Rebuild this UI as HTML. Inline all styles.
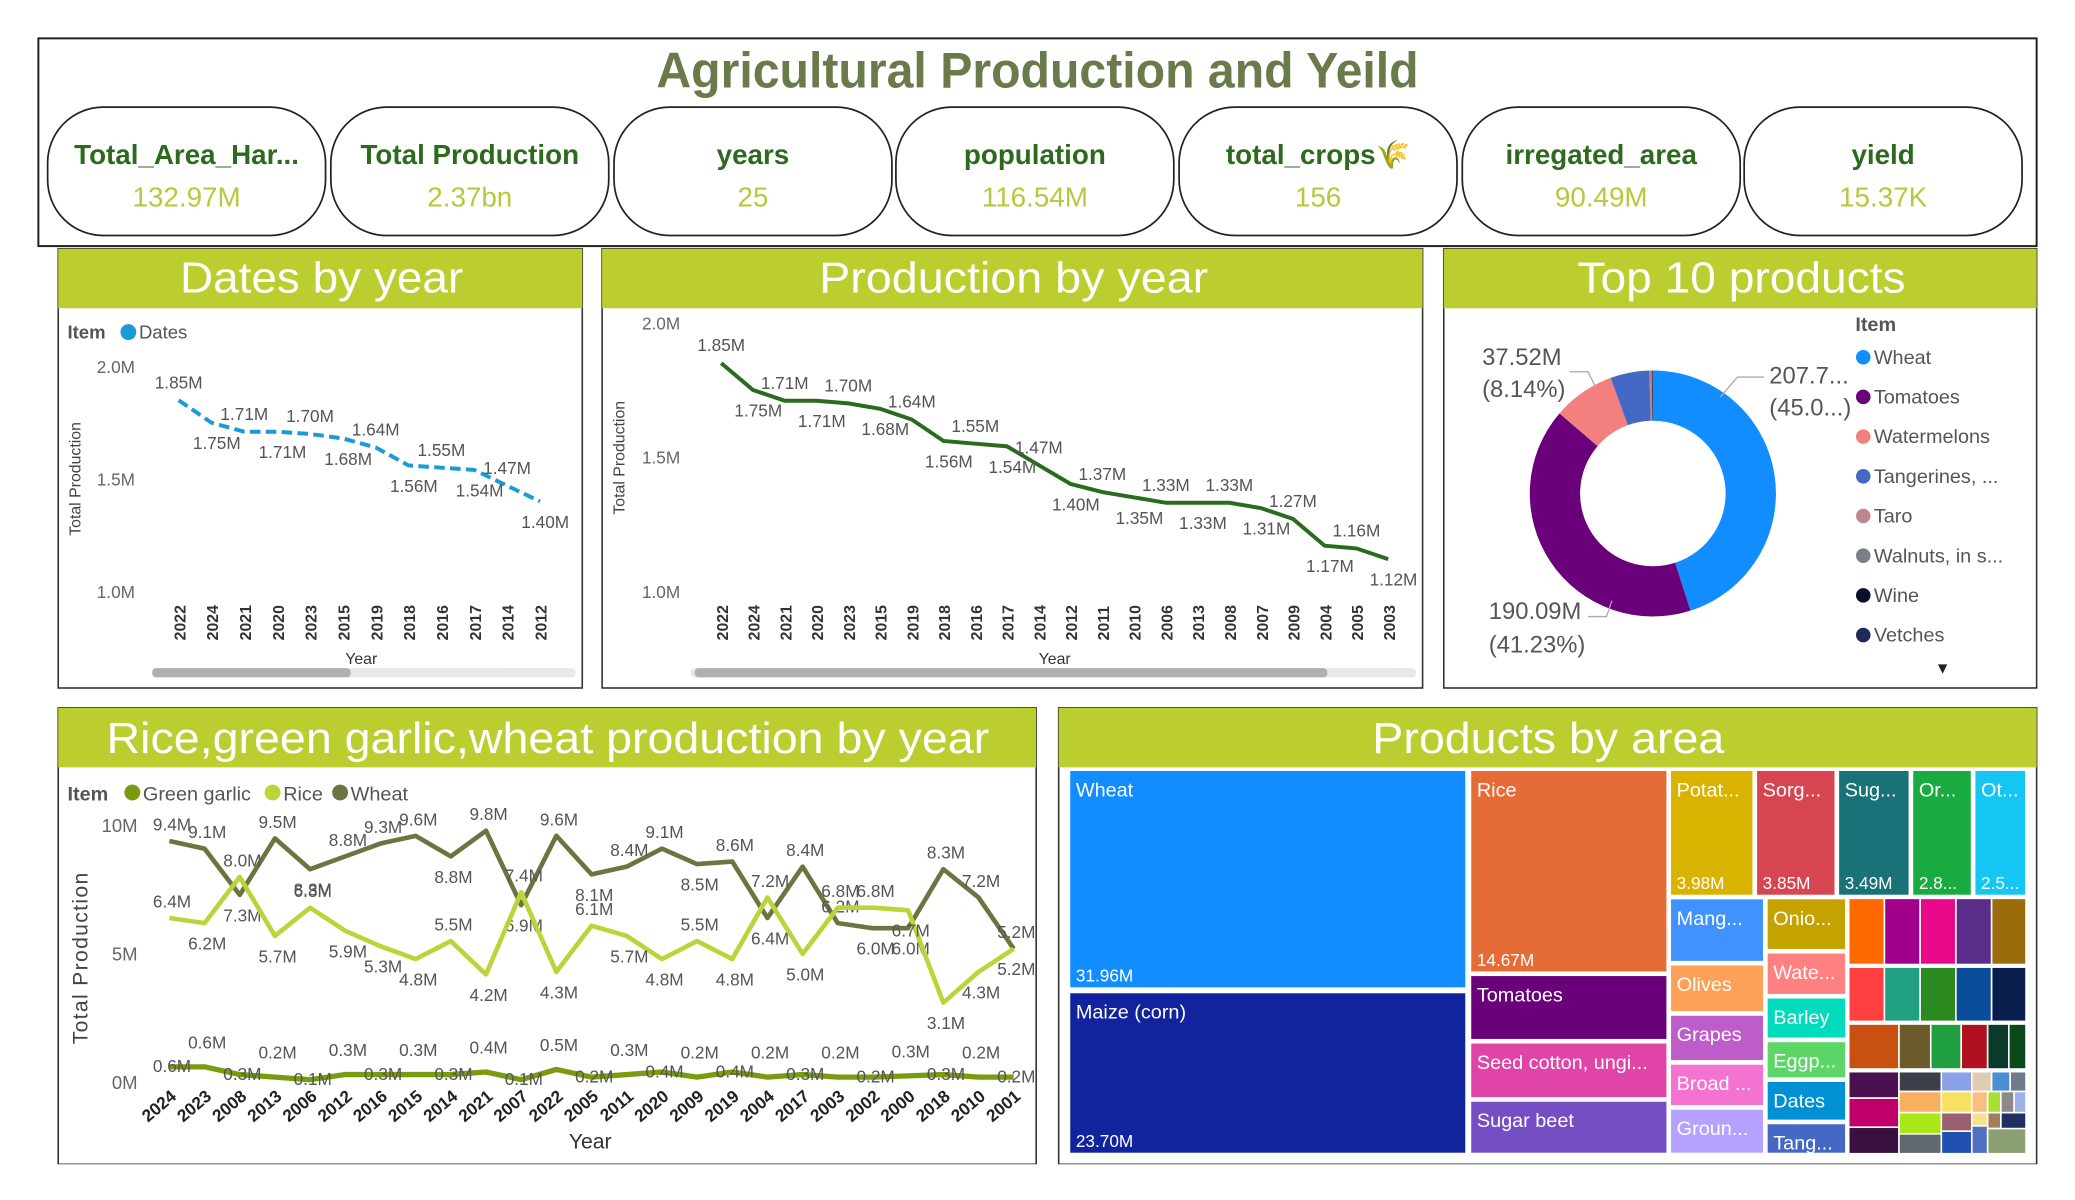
<!DOCTYPE html>
<html><head><meta charset="utf-8">
<style>
html,body{margin:0;padding:0;background:#fff;}
svg{display:block;font-family:"Liberation Sans Narrow","Liberation Sans",sans-serif;}
</style></head>
<body>
<svg id="root" width="2075" height="1200" viewBox="0 0 1568 907" preserveAspectRatio="none" xmlns="http://www.w3.org/2000/svg">
<rect x="0" y="0" width="1568" height="907" fill="#fff"/>
<g>
<rect x="29" y="29" width="1510" height="157" fill="#fff" stroke="#222" stroke-width="1.5"/>
<text x="784" y="66" text-anchor="middle" font-size="38" font-weight="bold" fill="#6b7a4a" textLength="576" lengthAdjust="spacingAndGlyphs">Agricultural Production and Yeild</text>
</g>
<g id="kpis"></g>

<g>
<rect x="44" y="188" width="396" height="332" fill="#fff" stroke="#333" stroke-width="1.2"/>
<rect x="44" y="188" width="396" height="45" fill="#bccd30"/>
<text x="243" y="221" text-anchor="middle" font-size="33" fill="#fff" textLength="214" lengthAdjust="spacingAndGlyphs">Dates by year</text>
<text x="51" y="256" font-size="14" font-weight="bold" fill="#555">Item</text>
<circle cx="97" cy="251" r="6" fill="#1a9bd7"/>
<text x="105" y="256" font-size="14" fill="#555">Dates</text>
<text transform="translate(61,362) rotate(-90)" text-anchor="middle" font-size="12" fill="#444">Total Production</text>
<text x="273" y="502" text-anchor="middle" font-size="12" fill="#333">Year</text>
<rect x="115" y="505" width="320" height="7" rx="3" fill="#e8e8e8"/>
<rect x="115" y="505" width="150" height="7" rx="3" fill="#b0b0b0"/>
<g id="datesChart"></g>
</g>

<g>
<rect x="455" y="188" width="620" height="332" fill="#fff" stroke="#333" stroke-width="1.2"/>
<rect x="455" y="188" width="620" height="45" fill="#bccd30"/>
<text x="766" y="221" text-anchor="middle" font-size="33" fill="#fff" textLength="294" lengthAdjust="spacingAndGlyphs">Production by year</text>
<text transform="translate(472,346) rotate(-90)" text-anchor="middle" font-size="12" fill="#444">Total Production</text>
<text x="797" y="502" text-anchor="middle" font-size="12" fill="#333">Year</text>
<rect x="522" y="505" width="548" height="7" rx="3" fill="#e8e8e8"/>
<rect x="525" y="505" width="478" height="7" rx="3" fill="#b0b0b0"/>
<g id="prodChart"></g>
</g>

<g>
<rect x="1091" y="188" width="448" height="332" fill="#fff" stroke="#333" stroke-width="1.2"/>
<rect x="1091" y="188" width="448" height="45" fill="#bccd30"/>
<text x="1316" y="221" text-anchor="middle" font-size="33" fill="#fff" textLength="248" lengthAdjust="spacingAndGlyphs">Top 10 products</text>
<text x="1402" y="250" font-size="15" font-weight="bold" fill="#555">Item</text>
<text x="1468" y="509" text-anchor="middle" font-size="12" fill="#222">▼</text>
<g id="donut"></g>
</g>

<g>
<rect x="44" y="535" width="739" height="345" fill="#fff" stroke="#333" stroke-width="1.2"/>
<rect x="44" y="535" width="739" height="45" fill="#bccd30"/>
<text x="414" y="569" text-anchor="middle" font-size="33" fill="#fff" textLength="667" lengthAdjust="spacingAndGlyphs">Rice,green garlic,wheat production by year</text>
<text x="51" y="605" font-size="15" font-weight="bold" fill="#555">Item</text>
<circle cx="100" cy="599" r="6" fill="#7a9a10"/><text x="108" y="605" font-size="15" fill="#555">Green garlic</text>
<circle cx="206" cy="599" r="6" fill="#bed33a"/><text x="214" y="605" font-size="15" fill="#555">Rice</text>
<circle cx="257" cy="599" r="6" fill="#6b7540"/><text x="265" y="605" font-size="15" fill="#555">Wheat</text>
<text transform="translate(66,724) rotate(-90)" text-anchor="middle" font-size="16" fill="#444" letter-spacing="1">Total Production</text>
<text x="446" y="868" text-anchor="middle" font-size="16" fill="#333">Year</text>
<g id="riceChart"></g>
</g>

<g>
<rect x="800" y="535" width="739" height="345" fill="#fff" stroke="#333" stroke-width="1.2"/>
<rect x="800" y="535" width="739" height="45" fill="#bccd30"/>
<text x="1170" y="569" text-anchor="middle" font-size="33" fill="#fff" textLength="266" lengthAdjust="spacingAndGlyphs">Products by area</text>
<g id="treemap"></g>
</g>
<rect x="0" y="880" width="1568" height="27" fill="#fff"/>
</svg>
<script>
const NS="http://www.w3.org/2000/svg";
function mk(tag,attrs,parent,txt){const e=document.createElementNS(NS,tag);for(const k in attrs)e.setAttribute(k,attrs[k]);if(txt!==undefined)e.textContent=txt;parent.appendChild(e);return e;}

const kpiLabels=["Total_Area_Har...","Total Production","years","population","total_crops🌾","irregated_area","yield"];
const kpiValues=["132.97M","2.37bn","25","116.54M","156","90.49M","15.37K"];
const datesYears=["2022","2024","2021","2020","2023","2015","2019","2018","2016","2017","2014","2012"];
const datesVals=[1.85,1.75,1.71,1.71,1.70,1.68,1.64,1.56,1.55,1.54,1.47,1.40];
const prodYears=["2022","2024","2021","2020","2023","2015","2019","2018","2016","2017","2014","2012","2011","2010","2006","2013","2008","2007","2009","2004","2005","2003"];
const prodVals=[1.85,1.75,1.71,1.71,1.70,1.68,1.64,1.56,1.55,1.54,1.47,1.40,1.37,1.35,1.33,1.33,1.33,1.31,1.27,1.17,1.16,1.12];
const yTicksProd=[1.0,1.5,2.0];
const donutItems=["Wheat","Tomatoes","Watermelons","Tangerines, ...","Taro","Walnuts, in s...","Wine","Vetches"];
const donutVals=[207.7,190.09,37.52,23.6,1.0,0.5,0.3,0.3];
const donutColors=["#118dff","#6b007b","#f47f7f","#4668c5","#c0868f","#7a7f88","#0a0f2a","#1e2a5c"];
const riceYears=["2024","2023","2008","2013","2006","2012","2016","2015","2014","2021","2007","2022","2005","2011","2020","2009","2019","2004","2017","2003","2002","2000","2018","2010","2001"];
const wheatVals=[9.4,9.1,7.3,9.5,8.3,8.8,9.3,9.6,8.8,9.8,6.9,9.6,8.1,8.4,9.1,8.5,8.6,6.4,8.4,6.2,6.0,6.0,8.3,7.2,5.2];
const riceVals=[6.4,6.2,8.0,5.7,6.8,5.9,5.3,4.8,5.5,4.2,7.4,4.3,6.1,5.7,4.8,5.5,4.8,7.2,5.0,6.8,6.8,6.7,3.1,4.3,5.2];
const garlicVals=[0.6,0.6,0.3,0.2,0.1,0.3,0.3,0.3,0.3,0.4,0.1,0.5,0.2,0.3,0.4,0.2,0.4,0.2,0.3,0.2,0.2,0.25,0.3,0.2,0.2];
const riceTicks=[0,5,10];
const tmNames=["Wheat","Maize (corn)","Rice","Tomatoes","Seed cotton, ungi...","Sugar beet","Potat...","Sorg...","Sug...","Or...","Ot...","Mang...","Olives","Grapes","Broad ...","Groun...","Onio...","Wate...","Barley","Eggp...","Dates","Tang..."];
const tmVals=[31.96,23.70,14.67,5.2,4.4,4.1,3.98,3.85,3.49,2.8,2.5,2.3,1.8,1.7,1.6,1.6,1.6,1.4,1.4,1.2,1.2,1.0];

const kg=document.getElementById('kpis');
const kx=[36,250,464,677,891,1105,1318];
kpiLabels.forEach((l,i)=>{
  const g=mk('g',{},kg);
  
  
  mk('rect',{x:kx[i],y:81,width:210,height:97,rx:42,ry:42,fill:'#fff',stroke:'#222','stroke-width':1.3},g);
  mk('text',{x:kx[i]+105,y:124,'text-anchor':'middle','font-size':21,'font-weight':'bold',fill:'#2d6a1f'},g,l);
  mk('text',{x:kx[i]+105,y:156,'text-anchor':'middle','font-size':21,fill:'#b5c93a'},g,kpiValues[i]);
});

function lineChart(gid,years,vals,x0,x1,yTop,yBot,vTop,vBot,ticks,tickX,opts){
  const g=document.getElementById(gid);
  const sx=i=>x0+(x1-x0)*i/(years.length-1);
  const sy=v=>yBot-(v-vBot)/(vTop-vBot)*(yBot-yTop);
  ticks.forEach(t=>{mk('text',{x:tickX,y:sy(t)+5,'text-anchor':'end','font-size':13,fill:'#666'},g,t.toFixed(1)+'M');});
  years.forEach((y,i)=>{const t=mk('text',{transform:`translate(${sx(i)+5},484) rotate(-90)`,'font-size':12,'font-weight':'bold',fill:'#333'},g,y);
    
    });
  const p=mk('polyline',{points:vals.map((v,i)=>sx(i)+','+sy(v)).join(' '),fill:'none',stroke:opts.color,'stroke-width':opts.w,'stroke-dasharray':opts.dash||'none'},g);
  
  
  vals.forEach((v,i)=>{const up=i%2===0;mk('text',{x:sx(i)+(up?0:4),y:sy(v)+(up?-9:20),'text-anchor':'middle','font-size':13,fill:'#555'},g,v.toFixed(2)+'M');});
}
lineChart('datesChart',datesYears,datesVals,135,408,277,447,2.0,1.0,[1.0,1.5,2.0],102,{color:'#1a9bd7',w:3,dash:'8 4',name:'dates-line'});
lineChart('prodChart',prodYears,prodVals,545,1049,244,447,2.0,1.0,yTicksProd,514,{color:'#2a6b1f',w:3,name:'production-line'});

(function(){
  const g=document.getElementById('donut');const cx=1249,cy=373,R=93,r=55;
  const tot=donutVals.reduce((a,b)=>a+b,0);let a0=0;
  donutVals.forEach((v,i)=>{
    const a1=a0+v/tot*2*Math.PI;
    const P=(rad,a)=>[cx+rad*Math.sin(a),cy-rad*Math.cos(a)];
    const [x1,y1]=P(R,a0),[x2,y2]=P(R,a1),[x3,y3]=P(r,a1),[x4,y4]=P(r,a0);const lg=(a1-a0)>Math.PI?1:0;
    const s=mk('path',{d:`M${x1},${y1}A${R},${R} 0 ${lg} 1 ${x2},${y2}L${x3},${y3}A${r},${r} 0 ${lg} 0 ${x4},${y4}Z`,fill:donutColors[i]},g);
    
    
    a0=a1;
    const ly=275+i*30;
    mk('circle',{cx:1408,cy:ly-5,r:5.5,fill:donutColors[i]},g);
    const t=mk('text',{x:1416,y:ly,'font-size':15,fill:'#555'},g,donutItems[i]);
    
    
  });
  const pct=v=>(v/tot*100);
  mk('text',{x:1337,y:290,'font-size':18,fill:'#555'},g,'207.7...');
  mk('text',{x:1337,y:314,'font-size':18,fill:'#555'},g,'(45.0...)');
  mk('polyline',{points:'1300,300 1313,285 1333,285',fill:'none',stroke:'#aaa'},g);
  mk('text',{x:1120,y:276,'font-size':18,fill:'#555'},g,donutVals[2].toFixed(2)+'M');
  mk('text',{x:1120,y:300,'font-size':18,fill:'#555'},g,'('+pct(donutVals[2]).toFixed(2)+'%)');
  mk('polyline',{points:'1186,281 1200,281 1206,293',fill:'none',stroke:'#aaa'},g);
  mk('text',{x:1125,y:468,'font-size':18,fill:'#555'},g,donutVals[1].toFixed(2)+'M');
  mk('text',{x:1125,y:493,'font-size':18,fill:'#555'},g,'('+pct(donutVals[1]).toFixed(2)+'%)');
  mk('polyline',{points:'1200,466 1214,466 1218,454',fill:'none',stroke:'#aaa'},g);
})();

(function(){
  const g=document.getElementById('riceChart');
  const x0=128,x1=766,yT=624,yB=818;
  const sx=i=>x0+(x1-x0)*i/(riceYears.length-1);
  const sy=v=>yB-v/10*(yB-yT);
  riceTicks.forEach(t=>mk('text',{x:104,y:sy(t)+5,'text-anchor':'end','font-size':14,fill:'#666'},g,t+'M'));
  riceYears.forEach((y,i)=>{const t=mk('text',{transform:`translate(${sx(i)+6},${830}) rotate(-40)`,'text-anchor':'end','font-size':13,'font-weight':'bold',fill:'#222'},g,y);
    
    });
  const series=[[wheatVals,'#6b7540','wheat-line'],[riceVals,'#bed33a','rice-line'],[garlicVals,'#7a9a10','green-garlic-line']];
  series.forEach(([vals,col,name],si)=>{
    const p=mk('polyline',{points:vals.map((v,i)=>sx(i)+','+sy(v)).join(' '),fill:'none',stroke:col,'stroke-width':si===2?4:3.5,'stroke-linejoin':'round'},g);
    
    
    vals.forEach((v,i)=>{
      let dy;
      if(si===2) dy=(i%2===0)?4:-14;
      else {
        const prev=i>0?vals[i-1]:v, next=i<vals.length-1?vals[i+1]:v;
        const peak=v>=prev&&v>=next, trough=v<=prev&&v<=next;
        dy=peak?-8:(trough?20:(si===0?-8:20));
      }
      mk('text',{x:sx(i)+2,y:sy(v)+dy,'text-anchor':'middle','font-size':13,fill:'#555'},g,v.toFixed(1)+'M');});
  });
})();

const tmColors=["#118dff","#12239e","#e66c37","#6b007b","#e044a7","#744ec2","#d9b300","#d64550","#197278","#1aab40","#15c6f4","#4092ff","#ffa058","#be5dc9","#f472d0","#b5a1ff","#c4a200","#ff8080","#00dbbc","#5bd667","#0091d5","#4668c5"];
const tmBoxes=[[808,582,300,165],[808,750,300,122],[1111,582,149,153],[1111,737,149,49],[1111,788,149,42],[1111,832,149,40],[1262,582,63,95],[1327,582,60,95],[1389,582,54,95],[1445,582,45,95],[1492,582,39,95],[1262,679,71,48],[1262,729,71,36],[1262,767,71,35],[1262,804,71,32],[1262,838,71,34],[1335,679,60,39],[1335,720,60,32],[1335,754,60,31],[1335,787,60,28],[1335,817,60,30],[1335,849,60,23]];
const tmShowVal=[0,1,2,6,7,8,9,10];
(function(){
  const g=document.getElementById('treemap');
  tmNames.forEach((n,i)=>{const [x,y,w,h]=tmBoxes[i];
    const r=mk('rect',{x,y,width:w,height:h,fill:tmColors[i],stroke:'#fff','stroke-width':1.5},g);
    
    
    mk('text',{x:x+5,y:y+20,'font-size':15,fill:'#fff'},g,n);
    if(tmShowVal.includes(i)) mk('text',{x:x+5,y:y+h-5,'font-size':13,fill:'#fff'},g,i>=9?(tmVals[i].toFixed(1)+'...'):tmVals[i].toFixed(2)+'M');
  });
  const small=[
   [1397,679,27,50,"#ff6a00"],[1424,679,27,50,"#a0008a"],[1451,679,27,50,"#e8088a"],[1478,679,27,50,"#5a2d8a"],[1505,679,26,50,"#9a6d0a"],
   [1397,731,27,41,"#ff4040"],[1424,731,27,41,"#20a080"],[1451,731,27,41,"#2a8a20"],[1478,731,27,41,"#0a4d9a"],[1505,731,26,41,"#0a1e4d"],
   [1397,774,38,34,"#c85010"],[1435,774,24,34,"#6b5a2a"],[1459,774,23,34,"#20a040"],[1482,774,20,34,"#b01020"],[1502,774,16,34,"#0a3a2a"],[1518,774,13,34,"#0a4a1a"],
   [1397,810,38,20,"#4a1050"],[1397,830,38,22,"#c0006a"],[1397,852,38,20,"#3a1040"],
   [1435,810,32,15,"#3a3f4a"],[1467,810,23,15,"#8aa0e8"],[1490,810,15,15,"#e0ccb0"],[1505,810,14,15,"#4a90d0"],[1519,810,12,15,"#707a8a"],
   [1435,825,32,16,"#f8b060"],[1467,825,23,16,"#f8e060"],[1490,825,12,16,"#f8c080"],[1502,825,10,16,"#a8e030"],[1512,825,10,16,"#8a8a8a"],[1522,825,9,16,"#a0b0e8"],
   [1435,841,32,16,"#a8e818"],[1467,841,23,14,"#9a6070"],[1490,841,12,10,"#f8e090"],[1502,841,10,12,"#a0805a"],[1512,841,19,14,"#203060"],
   [1435,857,32,15,"#606870"],[1467,855,23,17,"#2050b0"],[1490,851,12,21,"#5070c0"],[1502,853,29,19,"#8aa070"]];
  small.forEach((b,i)=>{const r=mk('rect',{x:b[0],y:b[1],width:b[2],height:b[3],fill:b[4],stroke:'#fff','stroke-width':1.2},g);
    
    });
})();
</script>
</body></html>
